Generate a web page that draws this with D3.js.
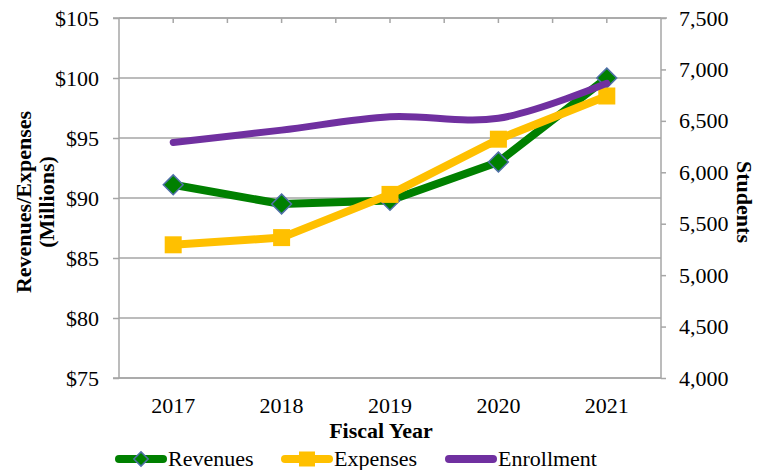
<!DOCTYPE html>
<html>
<head>
<meta charset="utf-8">
<script src="https://cdn.jsdelivr.net/npm/d3@7"></script>
<style>
  body { margin: 0; background: #fff; }
  svg text { font-family: "Liberation Serif", "Times New Roman", serif !important; fill: #000; }
</style>
</head>
<body>
<svg width="769" height="470"></svg>
<script>
var years = ["2017", "2018", "2019", "2020", "2021"];
var revenues = [91.1, 89.5, 89.8, 93.0, 100.0];
var expenses = [86.1, 86.7, 90.3, 94.9, 98.5];
var enrollment = [6290, 6410, 6540, 6525, 6865];
var leftTicks = [75, 80, 85, 90, 95, 100, 105];
var rightTicks = [4000, 4500, 5000, 5500, 6000, 6500, 7000, 7500];

var svg = d3.select("svg");
// (window.top is read-only, so plot edges get their own names)
var plotLeft = 119, plotRight = 661, plotTop = 18, plotBottom = 378;
var fs = 22;

var x = d3.scaleBand().domain(years).range([plotLeft, plotRight]);
var yL = d3.scaleLinear().domain([75, 105]).range([plotBottom, plotTop]);
var yR = d3.scaleLinear().domain([4000, 7500]).range([plotBottom, plotTop]);
var cx = d => x(d) + x.bandwidth() / 2;

var grid = "#a6a6a6";

// gridlines
svg.append("g")
  .selectAll("line")
  .data(leftTicks)
  .enter()
  .append("line")
  .attr("x1", plotLeft).attr("x2", plotRight)
  .attr("y1", d => yL(d)).attr("y2", d => yL(d))
  .attr("stroke", grid).attr("stroke-width", 1.5);

// top line with ticks at centers and band edges
svg.append("line")
  .attr("x1", plotLeft - 6).attr("x2", plotRight + 6)
  .attr("y1", plotTop).attr("y2", plotTop)
  .attr("stroke", grid).attr("stroke-width", 1.5);
var topTicks = years.map(cx).concat(years.slice(1).map(d => x(d)));
svg.append("g")
  .selectAll("line")
  .data(topTicks)
  .enter()
  .append("line")
  .attr("x1", d => d).attr("x2", d => d)
  .attr("y1", plotTop).attr("y2", plotTop + 5)
  .attr("stroke", grid).attr("stroke-width", 1.5);

svg.append("line")
  .attr("x1", plotLeft - 6).attr("x2", plotRight)
  .attr("y1", plotBottom).attr("y2", plotBottom)
  .attr("stroke", grid).attr("stroke-width", 1.5);

// left axis
var axL = svg.append("g")
  .attr("transform", "translate(" + plotLeft + ",0)")
  .call(d3.axisLeft(yL).tickValues(leftTicks).tickSize(6).tickPadding(14).tickFormat(d => "$" + d));
axL.attr("font-family", null);
axL.selectAll("line, path").attr("stroke", grid).attr("stroke-width", 1.5);
axL.select("path").attr("d", "M0," + plotTop + "V" + plotBottom);
axL.selectAll("text").attr("font-size", fs);

// right axis
var axR = svg.append("g")
  .attr("transform", "translate(" + plotRight + ",0)")
  .call(d3.axisRight(yR).tickValues(rightTicks).tickSize(5).tickPadding(13).tickFormat(d3.format(",")));
axR.attr("font-family", null);
axR.selectAll("line, path").attr("stroke", grid).attr("stroke-width", 1.5);
axR.select("path").attr("d", "M0," + plotTop + "V" + plotBottom);
axR.selectAll("text").attr("font-size", fs);

// x labels
svg.append("g")
  .selectAll("text")
  .data(years)
  .enter()
  .append("text")
  .attr("x", d => cx(d))
  .attr("y", 413)
  .attr("text-anchor", "middle")
  .attr("font-size", fs)
  .text(d => d);

// titles
svg.append("text")
  .attr("x", 381).attr("y", 438)
  .attr("text-anchor", "middle")
  .attr("font-size", fs).attr("font-weight", "bold")
  .text("Fiscal Year");

var lt = svg.append("text")
  .attr("transform", "translate(31,202) rotate(-90)")
  .attr("text-anchor", "middle")
  .attr("font-size", fs).attr("font-weight", "bold");
lt.append("tspan").attr("x", 0).attr("y", 0).text("Revenues/Expenses");
lt.append("tspan").attr("x", 0).attr("y", 23).text("(Millions)");

svg.append("text")
  .attr("transform", "translate(737,202) rotate(90)")
  .attr("text-anchor", "middle")
  .attr("font-size", fs).attr("font-weight", "bold")
  .text("Students");

// series
var green = "#008000", gold = "#ffc000", purple = "#7030a0", diamondStroke = "#4f6fa8";

var lineL = d3.line().x((d, i) => cx(years[i])).y(d => yL(d));
var lineR = d3.line().x((d, i) => cx(years[i])).y(d => yR(d)).curve(d3.curveCatmullRom.alpha(0.5));

svg.append("path")
  .attr("d", lineL(revenues))
  .attr("fill", "none").attr("stroke", green).attr("stroke-width", 8)
  .attr("stroke-linejoin", "round");

var diamond = d3.symbol().type(d3.symbolDiamond2).size(250);
svg.append("g")
  .selectAll("path")
  .data(revenues)
  .enter()
  .append("path")
  .attr("d", diamond)
  .attr("transform", (d, i) => "translate(" + cx(years[i]) + "," + yL(d) + ")")
  .attr("fill", green).attr("stroke", diamondStroke).attr("stroke-width", 1.5);

svg.append("path")
  .attr("d", lineL(expenses))
  .attr("fill", "none").attr("stroke", gold).attr("stroke-width", 8)
  .attr("stroke-linejoin", "round");

svg.append("g")
  .selectAll("rect")
  .data(expenses)
  .enter()
  .append("rect")
  .attr("x", (d, i) => cx(years[i]) - 8.5)
  .attr("y", d => yL(d) - 8.5)
  .attr("width", 17).attr("height", 17)
  .attr("fill", gold);

svg.append("path")
  .attr("d", lineR(enrollment))
  .attr("fill", "none").attr("stroke", purple).attr("stroke-width", 7)
  .attr("stroke-linecap", "round");

// legend
var legendItems = [
  { name: "Revenues", color: green, marker: "diamond", x: 115 },
  { name: "Expenses", color: gold, marker: "square", x: 281 },
  { name: "Enrollment", color: purple, marker: "none", x: 445 }
];
var lg = svg.append("g").attr("transform", "translate(0,459)");
var item = lg.selectAll("g")
  .data(legendItems)
  .enter()
  .append("g")
  .attr("transform", d => "translate(" + d.x + ",0)");
item.append("line")
  .attr("x1", 4).attr("x2", 48)
  .attr("stroke", d => d.color).attr("stroke-width", 8).attr("stroke-linecap", "round");
item.filter(d => d.marker === "diamond").append("path")
  .attr("d", d3.symbol().type(d3.symbolDiamond2).size(130))
  .attr("transform", "translate(26,0)")
  .attr("fill", green).attr("stroke", diamondStroke).attr("stroke-width", 1.5);
item.filter(d => d.marker === "square").append("rect")
  .attr("x", 18).attr("y", -7.5).attr("width", 16).attr("height", 15)
  .attr("fill", gold);
item.append("text")
  .attr("x", 53).attr("y", 7)
  .attr("font-size", fs)
  .text(d => d.name);
</script>
</body>
</html>
